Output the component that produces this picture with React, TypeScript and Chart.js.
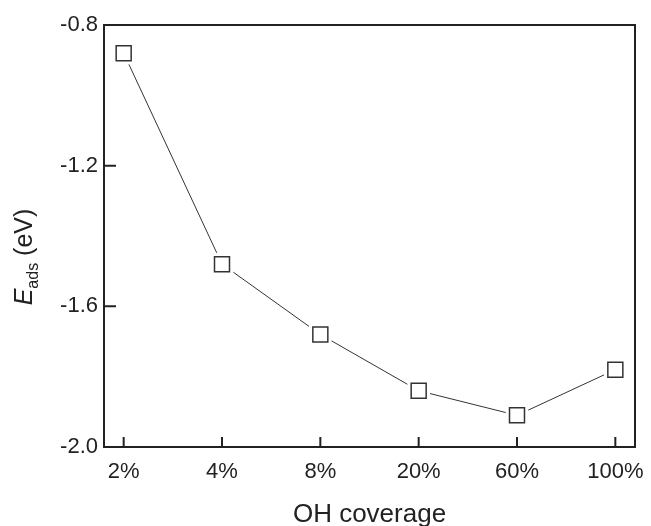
import React, { useEffect, useRef } from "react";
import { Chart, registerables } from "chart.js";

Chart.register(...registerables);

const categories = ["2%", "4%", "8%", "20%", "60%", "100%"];
const eadsValues = [-0.88, -1.48, -1.68, -1.84, -1.91, -1.78];
const yTickValues = [-2.0, -1.6, -1.2, -0.8];

const FONT = "'Liberation Sans', Arial, Helvetica, sans-serif";
const INK = "#222";

const framePlugin = {
  id: "frameAndTitles",
  afterDraw(chart: any) {
    const { ctx, chartArea } = chart;
    const xs = chart.scales.x;
    const ys = chart.scales.y;
    ctx.save();
    ctx.strokeStyle = INK;
    ctx.lineWidth = 2;
    ctx.strokeRect(chartArea.left, chartArea.top, chartArea.right - chartArea.left, chartArea.bottom - chartArea.top);
    ctx.beginPath();
    categories.forEach((_, i) => {
      const px = xs.getPixelForValue(i);
      ctx.moveTo(px, chartArea.bottom);
      ctx.lineTo(px, chartArea.bottom - 10);
    });
    yTickValues.forEach((v) => {
      const py = ys.getPixelForValue(v);
      ctx.moveTo(chartArea.left, py);
      ctx.lineTo(chartArea.left + 12, py);
    });
    ctx.stroke();

    // x tick labels
    ctx.fillStyle = INK;
    ctx.font = `22px ${FONT}`;
    ctx.textAlign = "center";
    ctx.textBaseline = "alphabetic";
    categories.forEach((c, i) => {
      ctx.fillText(c, xs.getPixelForValue(i), chartArea.bottom + 31);
    });

    // x title
    ctx.font = `26px ${FONT}`;
    ctx.fillText("OH coverage", (chartArea.left + chartArea.right) / 2, 522);

    // y title: E_ads (eV)
    const bigItalic = `italic 25px ${FONT}`;
    const big = `25px ${FONT}`;
    const small = `16px ${FONT}`;
    ctx.font = bigItalic;
    const wE = ctx.measureText("E").width;
    ctx.font = small;
    const wS = ctx.measureText("ads").width;
    ctx.font = big;
    const wU = ctx.measureText(" (eV)").width;
    const total = wE + wS + wU;
    ctx.translate(32, 257);
    ctx.rotate(-Math.PI / 2);
    ctx.textAlign = "left";
    let x0 = -total / 2;
    ctx.font = bigItalic;
    ctx.fillText("E", x0, 0);
    x0 += wE;
    ctx.font = small;
    ctx.fillText("ads", x0, 6);
    x0 += wS;
    ctx.font = big;
    ctx.fillText(" (eV)", x0, 0);
    ctx.restore();
  },
};

export default function App() {
  const ref = useRef<HTMLCanvasElement | null>(null);
  useEffect(() => {
    if (!ref.current) return;
    const pts = eadsValues.map((v, i) => ({ x: i, y: v }));
    const chart = new Chart(ref.current, {
      type: "line",
      data: {
        datasets: [
          {
            data: pts,
            showLine: false,
            pointStyle: "rect",
            pointRadius: 10.6,
            pointBackgroundColor: "#fff",
            pointBorderColor: "#333",
            pointBorderWidth: 1.5,
          },
          {
            data: pts,
            showLine: false,
            pointStyle: "rect",
            pointRadius: 16,
            pointBackgroundColor: "#fff",
            pointBorderColor: "#fff",
            pointBorderWidth: 0,
          },
          {
            data: pts,
            showLine: true,
            borderColor: "#333",
            borderWidth: 1,
            pointRadius: 0,
            tension: 0,
          },
        ],
      },
      options: {
        responsive: false,
        animation: false,
        events: [],
        layout: { padding: { left: 0, right: 12, top: 25, bottom: 0 } },
        plugins: { legend: { display: false }, tooltip: { enabled: false } },
        scales: {
          x: {
            type: "linear",
            min: -0.2,
            max: 5.2,
            afterBuildTicks: (s: any) => {
              s.ticks = categories.map((_, i) => ({ value: i }));
            },
            afterFit: (s: any) => {
              s.height = 79;
              s.paddingLeft = 0;
              s.paddingRight = 0;
            },
            grid: { display: false, drawTicks: false },
            border: { display: false },
            ticks: { display: false },
          },
          y: {
            type: "linear",
            min: -2.0,
            max: -0.8,
            afterBuildTicks: (s: any) => {
              s.ticks = yTickValues.map((v) => ({ value: v }));
            },
            afterFit: (s: any) => {
              s.width = 104;
              s.paddingTop = 0;
              s.paddingBottom = 0;
            },
            grid: { display: false, drawTicks: false },
            border: { display: false },
            ticks: {
              padding: 6,
              color: INK,
              font: { family: FONT, size: 22 },
              callback: (v: any) => Number(v).toFixed(1),
            },
          },
        },
      },
      plugins: [framePlugin],
    });
    return () => chart.destroy();
  }, []);
  return (
    <div style={{ position: "fixed", left: 0, top: 0, width: 651, height: 526, background: "#fff" }}>
      <canvas ref={ref} width={651} height={526} style={{ display: "block" }} />
    </div>
  );
}
